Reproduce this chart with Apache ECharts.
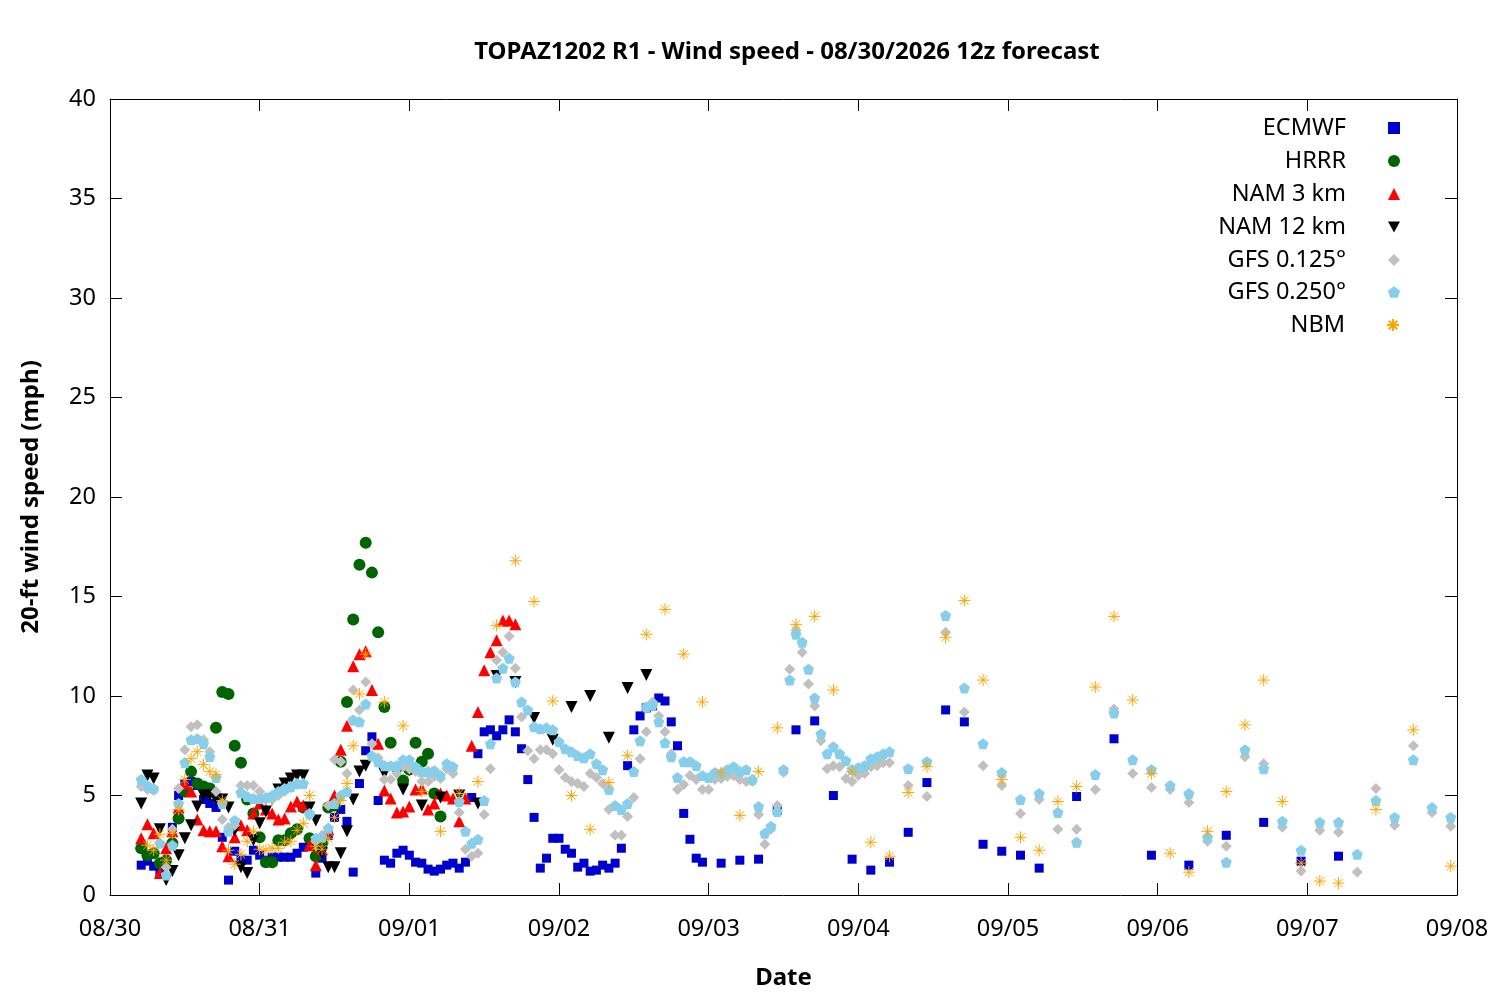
<!DOCTYPE html>
<html>
<head>
<meta charset="utf-8">
<title>TOPAZ1202 R1 - Wind speed</title>
<script src="https://cdn.jsdelivr.net/npm/echarts@6/dist/echarts.min.js"></script>
<style>
  html, body { margin: 0; padding: 0; background: #fff; }
  #chart { width: 1500px; height: 1000px; }
</style>
</head>
<body>
<div id="chart"></div>
<script>
// tick labels of the date axis (one per day, 24 h apart, hour 0 = 08/30 00 local)
const dayLabels = ['08/30', '08/31', '09/01', '09/02', '09/03', '09/04', '09/05', '09/06', '09/07', '09/08']

// output schedule of every model: [first hour, last hour, step]
const ecmwfSteps = [[5, 95, 1], [98, 149, 3], [155, 197, 6]]
const hrrrSteps = [[5, 53, 1]]
const nam3Steps = [[5, 65, 1]]
const nam12Steps = [[5, 41, 1], [44, 86, 3]]
const gfsSteps = [[5, 125, 1], [128, 215, 3]]
const nbmSteps = [[6, 41, 1], [44, 197, 3], [203, 215, 6]]

// wind speed (mph)
const ecmwfSpeed = [
  1.5, 1.7, 1.45, 1.1, 1.6, 3.4, 5.0, 5.6, 5.7, 5.5, 4.8, 4.6, 4.4, 2.9, 0.75,
  2.2, 1.75, 1.75, 2.25, 2.0, 1.75, 1.9, 1.9, 1.9, 1.9, 2.1, 2.4, 2.5, 1.1, 1.85,
  3.0, 3.9, 4.3, 3.7, 1.15, 5.6, 7.25, 7.95, 4.75, 1.75, 1.6, 2.1, 2.25, 2.0, 1.65,
  1.6, 1.3, 1.2, 1.3, 1.5, 1.6, 1.35, 1.65, 4.9, 7.1, 8.2, 8.3, 8.0, 8.3, 8.8,
  8.2, 7.35, 5.8, 3.9, 1.35, 1.85, 2.85, 2.85, 2.3, 2.1, 1.4, 1.6, 1.2, 1.25, 1.5,
  1.35, 1.6, 2.35, 6.5, 8.3, 9.0, 9.4, 9.5, 9.9, 9.75, 8.7, 7.5, 4.1, 2.8, 1.85,
  1.65,
  1.6, 1.75, 1.8, 4.25, 8.3, 8.75, 5.0, 1.8, 1.25, 1.65, 3.15, 5.65, 9.3, 8.7, 2.55,
  2.2, 2.0, 1.35,
  4.95, 7.85, 2.0, 1.5, 3.0, 3.65, 1.7, 1.95
]
const hrrrSpeed = [
  2.35, 2.0, 2.1, 1.6, 1.75, 2.6, 3.85, 5.2, 6.2, 5.6, 5.45, 5.35, 8.4, 10.2, 10.1,
  7.5, 6.65, 4.8, 4.1, 2.9, 1.65, 1.65, 2.75, 2.75, 3.1, 3.3, 4.4, 2.85, 1.95, 2.6,
  4.4, 4.5, 6.7, 9.7, 13.85, 16.6, 17.7, 16.2, 13.2, 9.45, 7.65, 6.4, 5.75, 6.3, 7.65,
  6.7, 7.1, 5.1, 3.95
]
const nam3Speed = [
  2.85, 3.55, 3.1, 1.1, 2.35, 3.2, 4.4, 5.6, 5.2, 3.8, 3.25, 3.2, 3.2, 2.45, 1.95,
  2.9, 3.5, 3.25, 4.1, 4.6, 4.3, 4.1, 3.8, 3.85, 4.45, 4.7, 4.5, 2.5, 1.5, 2.3,
  3.3, 5.0, 7.3, 8.5, 11.5, 12.1, 12.25, 10.3, 7.6, 5.25, 4.85, 4.15, 4.2, 4.45, 5.3,
  5.35, 4.3, 4.6, 5.1, 5.0, 4.85, 3.7, 4.85, 7.5, 9.2, 11.3, 12.2, 12.8, 13.8, 13.8,
  13.6
]
const nam12Speed = [
  4.6, 6.0, 5.85, 3.3, 0.75, 1.2, 2.0, 2.85, 3.5, 4.45, 5.0, 5.0, 4.8, 4.8, 4.4,
  3.25, 1.4, 1.1, 2.75, 3.6, 4.2, 4.8, 5.3, 5.6, 5.85, 6.0, 6.0, 4.4, 3.75, 2.1,
  1.4, 1.4, 2.1, 3.2, 4.8, 6.2, 6.5,
  6.1, 5.3, 4.5, 4.9, 5.0, 4.6, 11.0, 10.7, 8.9, 7.8, 9.45, 10.0, 7.9, 10.4, 11.05
]
const gfs125Speed = [
  5.45, 5.3, 5.25, 2.6, 1.4, 3.3, 5.35, 7.3, 8.45, 8.55, 7.8, 7.2, 5.2, 3.8, 3.4,
  3.5, 5.5, 5.5, 5.5, 5.2, 4.8, 4.8, 5.0, 5.2, 5.4, 5.55, 5.6, 4.0, 2.7, 3.0,
  4.5, 6.8, 6.7, 6.1, 10.3, 9.3, 10.7, 7.6, 6.9, 5.8, 5.8, 6.1, 6.45, 6.35, 6.2,
  5.7, 5.7, 5.95, 5.85, 6.35, 6.1, 4.15, 2.3, 1.95, 2.1, 4.05, 6.35, 11.8, 12.2, 13.0,
  11.4, 8.95, 7.25, 6.85, 7.3, 7.3, 7.1, 6.3, 5.9, 5.7, 5.6, 5.45, 6.1, 5.9, 5.6,
  4.3, 3.0, 3.0, 3.95, 4.9, 6.85, 8.2, 9.7, 9.0, 8.2, 7.1, 5.3, 5.55, 6.0, 5.8,
  5.3, 5.3, 5.8, 5.85, 5.95, 6.0, 5.8, 5.7, 5.7, 4.05, 2.55, 3.3, 4.5, 6.15, 11.35,
  13.3, 12.2, 10.6, 9.5, 7.75, 6.35, 6.5, 6.45, 5.85, 5.7, 6.0, 6.1, 6.45, 6.5, 6.65,
  6.65,
  5.5, 4.95, 13.2, 9.2, 6.5, 5.5, 4.1, 4.8, 3.3, 3.3, 5.3, 9.35, 6.1, 5.4, 5.3,
  4.65, 2.7, 2.45, 6.95, 6.6, 3.4, 1.2, 3.25, 3.15, 1.15, 5.35, 3.5, 7.5, 4.15, 3.45
]
const gfs250Speed = [
  5.8, 5.5, 5.35, 2.6, 1.0, 2.5, 4.6, 6.65, 7.8, 7.85, 7.6, 6.95, 5.9, 4.6, 3.2,
  3.75, 5.15, 4.95, 4.85, 4.85, 4.9, 5.0, 5.2, 5.35, 5.45, 5.6, 5.6, 4.1, 2.85, 2.9,
  3.35, 4.6, 5.0, 5.2, 8.8, 8.7, 9.6, 7.0, 6.7, 6.5, 6.5, 6.5, 6.8, 6.8, 6.45,
  6.2, 6.2, 6.25, 6.0, 6.6, 6.45, 4.7, 3.2, 2.6, 2.8, 4.75, 7.6, 10.9, 11.4, 11.9,
  10.7, 9.7, 9.3, 8.45, 8.35, 8.4, 8.3, 7.7, 7.35, 7.2, 7.0, 6.9, 7.1, 6.6, 6.3,
  5.3, 4.5, 4.3, 4.6, 6.2, 7.75, 9.45, 9.55, 8.7, 7.65, 6.95, 5.9, 6.7, 6.7, 6.5,
  6.0, 5.9, 6.15, 6.1, 6.3, 6.45, 6.2, 6.3, 5.8, 4.45, 3.1, 3.45, 4.2, 6.3, 10.8,
  13.1, 12.7, 11.35, 9.9, 8.1, 7.1, 7.45, 7.1, 6.75, 6.3, 6.4, 6.5, 6.85, 6.95, 7.1,
  7.2,
  6.35, 6.7, 14.05, 10.4, 7.6, 6.15, 4.8, 5.1, 4.15, 2.65, 6.05, 9.15, 6.8, 6.3, 5.5,
  5.1, 2.9, 1.65, 7.3, 6.35, 3.7, 2.25, 3.65, 3.65, 2.05, 4.75, 3.9, 6.8, 4.4, 3.9
]
const nbmSpeed = [
  2.5, 2.25, 3.05, 1.75, 3.1, 4.3, 5.8, 6.85, 7.2, 6.55, 6.2, 6.05, 4.75, 2.25, 1.55,
  2.05, 2.7, 3.2, 2.3, 2.25, 2.35, 2.35, 2.65, 2.7, 3.25, 3.6, 5.0, 2.45, 2.3, 2.85,
  3.9, 4.75, 5.6, 7.5, 10.1, 12.1,
  9.7, 8.5, 5.2, 3.2, 5.1, 5.7, 13.55, 16.8, 14.75, 9.75, 5.0, 3.3, 5.65, 7.0, 13.1,
  14.35, 12.1, 9.7, 6.15, 4.0, 6.2, 8.4, 13.6, 14.0, 10.3, 6.2, 2.65, 1.95, 5.15, 6.45,
  12.95, 14.8, 10.8, 5.8, 2.9, 2.25, 4.7, 5.45, 10.45, 14.0, 9.8, 6.1, 2.1, 1.15, 3.2,
  5.2, 8.55, 10.8, 4.7, 1.6, 0.7, 0.6,
  4.3, 8.3, 1.45
]

const FONT = 'Noto Sans'

function expandHours (steps) {
  const hours = []
  steps.forEach(([a, b, s]) => {
    for (let h = a; h <= b; h += s) hours.push(h)
  })
  return hours
}

function toPoints (steps, speeds) {
  const hours = expandHours(steps)
  if (hours.length !== speeds.length) console.warn('length mismatch', hours.length, speeds.length)
  return hours.map((h, i) => [h, speeds[i]]).filter(p => p[1] != null)
}

// gnuplot-like point shapes
const DOWN_TRIANGLE = 'path://M0,0 L10,0 L5,9 Z'
const PENTAGON = 'path://M0,-10 L9.51,-3.09 L5.88,8.09 L-5.88,8.09 L-9.51,-3.09 Z'
const ASTERISK = 'path://M5,0 L5,10 M0,5 L10,5 M1.5,1.5 L8.5,8.5 M1.5,8.5 L8.5,1.5'

const models = [
  { name: 'ECMWF', steps: ecmwfSteps, speed: ecmwfSpeed, color: '#0000cc', symbol: 'rect', size: 9 },
  { name: 'HRRR', steps: hrrrSteps, speed: hrrrSpeed, color: '#006400', symbol: 'circle', size: 12 },
  { name: 'NAM 3 km', steps: nam3Steps, speed: nam3Speed, color: '#ff0000', symbol: 'triangle', size: 12 },
  { name: 'NAM 12 km', steps: nam12Steps, speed: nam12Speed, color: '#000000', symbol: DOWN_TRIANGLE, size: 12 },
  { name: 'GFS 0.125°', steps: gfsSteps, speed: gfs125Speed, color: '#c0c0c0', symbol: 'diamond', size: 11 },
  { name: 'GFS 0.250°', steps: gfsSteps, speed: gfs250Speed, color: '#87ceeb', symbol: PENTAGON, size: 11 },
  { name: 'NBM', steps: nbmSteps, speed: nbmSpeed, color: '#ffa500', symbol: ASTERISK, size: 12, stroke: true }
]

const legendRows = [128, 161, 194, 227, 260, 292, 325]

const chart = echarts.init(document.getElementById('chart'))

const frameLine = { show: true, onZero: false, lineStyle: { color: '#000', width: 1 } }
const tickIn = { show: true, inside: true, length: 12, lineStyle: { color: '#000', width: 1 } }

chart.setOption({
  backgroundColor: '#fff',
  animation: false,
  textStyle: { fontFamily: FONT },
  title: {
    text: 'TOPAZ1202 R1 - Wind speed - 08/30/2026 12z forecast',
    left: 782,
    top: 35,
    textAlign: 'center',
    textStyle: { fontFamily: FONT, fontSize: 24, fontWeight: 'bold', color: '#000' }
  },
  legend: models.map((m, i) => ({
    data: [m.name],
    orient: 'vertical',
    align: 'right',
    right: 100,
    top: legendRows[i] - 14,
    padding: 0,
    itemWidth: 12,
    itemHeight: 12,
    selectedMode: false,
    textStyle: { fontFamily: FONT, fontSize: 23.5, color: '#000', lineHeight: 28, padding: [0, 37, 0, 0] }
  })),
  grid: { left: 110, right: 43, top: 99, bottom: 105 },
  xAxis: [
    {
      type: 'value',
      min: 0,
      max: 216,
      interval: 24,
      name: 'Date',
      nameLocation: 'middle',
      nameGap: 71,
      nameTextStyle: { fontFamily: FONT, fontSize: 24, fontWeight: 'bold', color: '#000' },
      axisLine: frameLine,
      axisTick: tickIn,
      splitLine: { show: false },
      axisLabel: {
        margin: 22,
        fontFamily: FONT,
        fontSize: 23.5,
        color: '#000',
        formatter: v => dayLabels[Math.round(v / 24)]
      }
    },
    {
      type: 'value',
      position: 'top',
      min: 0,
      max: 216,
      interval: 24,
      axisLine: frameLine,
      axisTick: tickIn,
      axisLabel: { show: false },
      splitLine: { show: false }
    }
  ],
  yAxis: [
    {
      type: 'value',
      min: 0,
      max: 40,
      interval: 5,
      name: '20-ft wind speed (mph)',
      nameLocation: 'middle',
      nameGap: 67,
      nameTextStyle: { fontFamily: FONT, fontSize: 24, fontWeight: 'bold', color: '#000' },
      axisLine: frameLine,
      axisTick: tickIn,
      splitLine: { show: false },
      axisLabel: { margin: 14, fontFamily: FONT, fontSize: 23.5, color: '#000' }
    },
    {
      type: 'value',
      position: 'right',
      min: 0,
      max: 40,
      interval: 5,
      axisLine: frameLine,
      axisTick: tickIn,
      axisLabel: { show: false },
      splitLine: { show: false }
    }
  ],
  series: models.map(m => ({
    name: m.name,
    type: 'scatter',
    data: toPoints(m.steps, m.speed),
    symbol: m.symbol,
    symbolSize: m.size,
    itemStyle: m.stroke
      ? { color: m.color, borderColor: m.color, borderWidth: 1, opacity: 1 }
      : { color: m.color, opacity: 1 },
    emphasis: { disabled: true }
  }))
})
</script>
</body>
</html>
